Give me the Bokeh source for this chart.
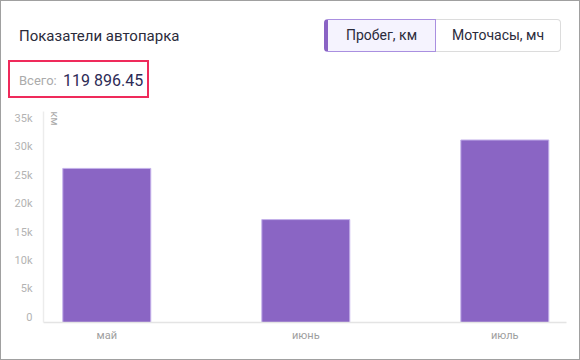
import math
from bokeh.plotting import figure
from bokeh.models import Range1d, FixedTicker, Label, ColumnDataSource, Div
from bokeh.layouts import column
from bokeh.embed import file_html
from bokeh.resources import INLINE

# ---- data ----
months = ["май", "июнь", "июль"]
mileage = [27100, 18100, 32100]
y_ticks = [0, 5000, 10000, 15000, 20000, 25000, 30000, 35000]
y_tick_labels = ["0", "5k", "10k", "15k", "20k", "25k", "30k", "35k"]
title_text = "Показатели автопарка"
total_label = "Всего:"
total_value = "119 896.45"
buttons = ["Пробег, км", "Моточасы, мч"]
unit_label = "км"

FONT = "Roboto"
BAR = "#8a65c4"

# ---- header (HTML) ----
header_html = f"""
<div style="position:relative;width:578px;height:104px;font-family:Roboto,sans-serif;background:white;">
  <div style="position:absolute;left:18px;top:26px;font-size:15px;line-height:18px;color:#2b2b3b;white-space:nowrap;">{title_text}</div>
  <div style="position:absolute;left:7px;top:59px;width:141px;height:38px;box-sizing:border-box;border:2px solid #ef2a5b;"></div>
  <div style="position:absolute;left:18px;top:72px;font-size:13px;line-height:16px;color:#ababab;white-space:nowrap;">{total_label}</div>
  <div style="position:absolute;left:62px;top:70px;font-size:16px;line-height:20px;color:#2d2b56;white-space:nowrap;">{total_value}</div>
  <div style="position:absolute;left:323px;top:18px;width:112px;height:33px;box-sizing:border-box;border:1px solid #a98fe0;border-left:4px solid #8a63c4;border-radius:4px 0 0 4px;background:#f5f3fe;font-size:14px;line-height:31px;text-align:center;color:#2b2b3b;white-space:nowrap;">{buttons[0]}</div>
  <div style="position:absolute;left:435px;top:18px;width:125px;height:33px;box-sizing:border-box;border:1px solid #dcdcdc;border-left:none;border-radius:0 4px 4px 0;background:white;font-size:14px;line-height:31px;text-align:center;color:#2b2b3b;white-space:nowrap;">{buttons[1]}</div>
</div>
"""
header = Div(text=header_html, width=578, height=104, styles={"margin": "0", "padding": "0"})

# ---- chart ----
x_idx = list(range(len(months)))
src = ColumnDataSource(dict(x=x_idx, top=mileage, name=months))

p = figure(width=578, height=254, output_backend="svg", toolbar_location=None,
           x_range=Range1d(-0.318, 2.31), y_range=Range1d(0, 37110),
           min_border_left=42, min_border_right=13, min_border_top=6, min_border_bottom=37)
p.outline_line_color = None
p.grid.grid_line_color = None
p.background_fill_color = "white"
p.border_fill_color = "white"

p.vbar(x="x", top="top", width=0.442, source=src, fill_color=BAR,
       line_color="#c3b0ea", line_width=1)

p.xaxis.ticker = FixedTicker(ticks=x_idx)
p.xaxis.major_label_overrides = {i: m for i, m in zip(x_idx, months)}
p.xaxis.axis_line_color = "#e4e4e4"
p.xaxis.axis_line_width = 1.5
p.xaxis.major_tick_line_color = None
p.xaxis.minor_tick_line_color = None
p.xaxis.major_label_text_font = FONT
p.xaxis.major_label_text_font_size = "11px"
p.xaxis.major_label_text_color = "#9e9e9e"
p.xaxis.major_label_standoff = 0

# labels sit just above their tick (trailing empty line lifts them by half a line)
p.yaxis.ticker = FixedTicker(ticks=y_ticks)
p.yaxis.major_label_overrides = {t: l + "\n" for t, l in zip(y_ticks, y_tick_labels)}
p.yaxis.axis_line_color = "#ececec"
p.yaxis.axis_line_width = 1.5
p.yaxis.major_tick_line_color = None
p.yaxis.minor_tick_line_color = None
p.yaxis.major_label_text_font = FONT
p.yaxis.major_label_text_font_size = "11px"
p.yaxis.major_label_text_line_height = 0.8
p.yaxis.major_label_text_color = "#b3b3b3"
p.yaxis.major_label_standoff = 5

p.add_layout(Label(x=53, y=13, x_units="canvas", y_units="canvas", text=unit_label,
                   angle=-math.pi / 2, text_align="center", text_baseline="middle",
                   text_font=FONT, text_font_size="11px", text_color="#aaaaaa"))

layout = column(header, p, spacing=0,
                styles={"border": "1px solid #a0a0a0", "background": "white"})

open("out.html", "w").write(file_html(layout, INLINE))
